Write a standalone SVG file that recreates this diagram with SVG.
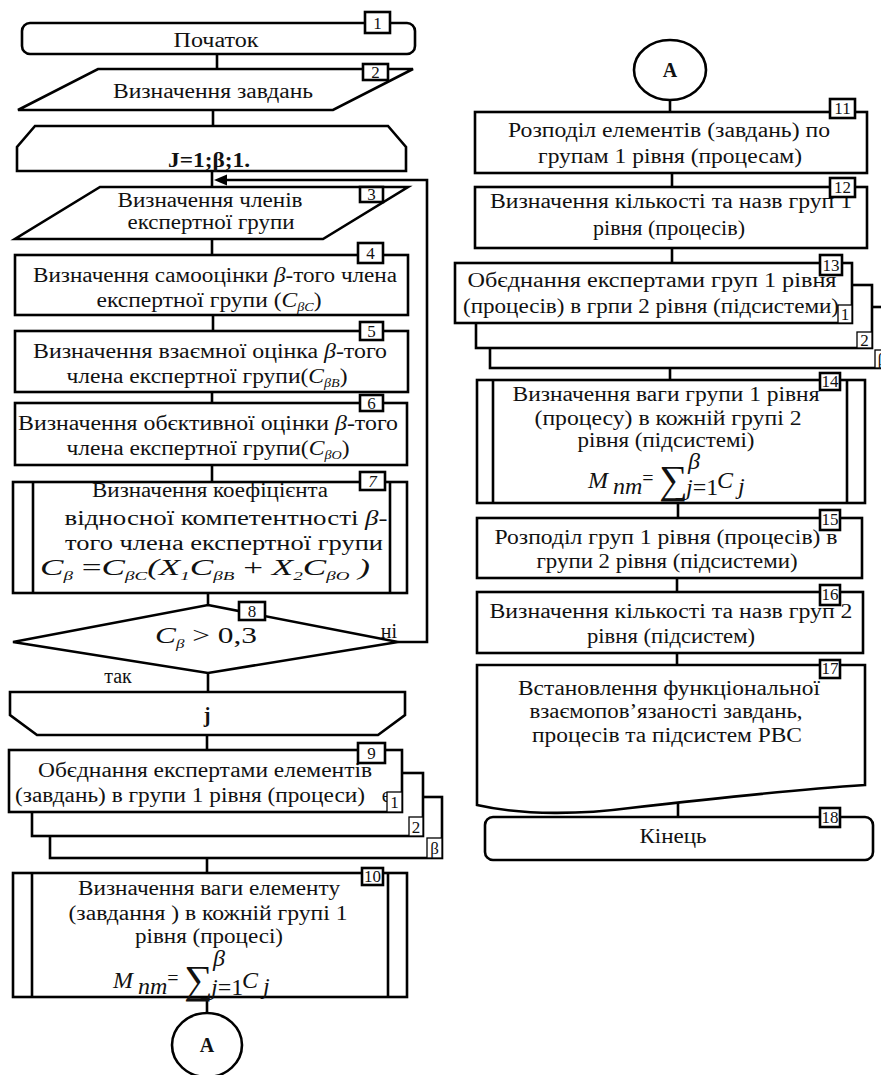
<svg xmlns="http://www.w3.org/2000/svg" width="881" height="1075" viewBox="0 0 881 1075" font-family="Liberation Serif, DejaVu Serif, serif">
<style>
.b{fill:#fff;stroke:#000;stroke-width:2.6}
.bd{fill:#fff;stroke:#000;stroke-width:2.6}
.bt{fill:#fff;stroke:#000;stroke-width:1.3}
.c{fill:none;stroke:#000;stroke-width:2.6}
.t{font-size:20px;fill:#111;text-anchor:middle}
.n{font-size:17px;fill:#111;text-anchor:middle}
.fm{font-size:24px;font-style:italic;fill:#111}
.s{font-size:13px}
.sg{font-size:40px;fill:#111}
</style>

<g id="connectors">
<line class="c" x1="217" y1="54" x2="217" y2="69"/>
<line class="c" x1="213" y1="110" x2="213" y2="126"/>
<line class="c" x1="212" y1="171" x2="212" y2="187"/>
<line class="c" x1="212" y1="239" x2="212" y2="255"/>
<line class="c" x1="213" y1="315" x2="213" y2="331"/>
<line class="c" x1="212" y1="392" x2="212" y2="403"/>
<line class="c" x1="212" y1="465" x2="212" y2="482"/>
<line class="c" x1="208" y1="593" x2="208" y2="605"/>
<line class="c" x1="208" y1="673" x2="208" y2="692"/>
<line class="c" x1="207" y1="735" x2="207" y2="750"/>
<line class="c" x1="207" y1="858" x2="207" y2="873"/>
<line class="c" x1="207" y1="997" x2="207" y2="1013"/>
<polyline class="c" points="398,642 427,642 427,180 224,180"/>
<polygon points="214,180 227,174.5 227,185.5" fill="#000"/>
<line class="c" x1="670" y1="100" x2="670" y2="112"/>
<line class="c" x1="672" y1="173" x2="672" y2="187"/>
<line class="c" x1="672" y1="248" x2="672" y2="263"/>
<line class="c" x1="670" y1="368" x2="670" y2="380"/>
<line class="c" x1="678" y1="503" x2="678" y2="518"/>
<line class="c" x1="677" y1="578" x2="677" y2="592"/>
<line class="c" x1="677" y1="653" x2="677" y2="665"/>
<line class="c" x1="678" y1="800" x2="678" y2="817"/>
</g>

<g id="n1">
<rect class="b" x="22" y="23" width="393" height="31" rx="8"/>
<text class="t" x="216" y="47" textLength="85" lengthAdjust="spacingAndGlyphs">Початок</text>
<rect class="bd" x="365" y="12" width="25" height="21"/><text class="n" x="377.5" y="29">1</text>
</g>

<g id="n2">
<polygon class="b" points="98,69 413,69 333,110 18,110"/>
<text class="t" x="213" y="98" textLength="200" lengthAdjust="spacingAndGlyphs">Визначення завдань</text>
<rect class="bd" x="363" y="64" width="25" height="16"/><text class="n" x="375.5" y="78">2</text>
</g>

<g id="loopstart">
<polygon class="b" points="35,126 388,126 406,147 406,171 17,171 17,147"/>
<text class="t" x="209" y="167" font-weight="bold" textLength="82" lengthAdjust="spacingAndGlyphs">J=1;β;1.</text>
</g>

<g id="n3">
<polygon class="b" points="100,187 408,187 323,239 15,239"/>
<text class="t" x="210" y="207" textLength="185" lengthAdjust="spacingAndGlyphs">Визначення членів</text>
<text class="t" x="211" y="229" textLength="167" lengthAdjust="spacingAndGlyphs">експертної групи</text>
<rect class="bd" x="360" y="187" width="23" height="15"/><text class="n" x="371.5" y="200">3</text>
</g>

<g id="n4">
<rect class="b" x="15" y="255" width="393" height="60"/>
<text class="t" x="215" y="282" textLength="364" lengthAdjust="spacingAndGlyphs">Визначення  самооцінки <tspan font-style="italic">β</tspan>-того члена</text>
<text class="t" x="209" y="307" textLength="225" lengthAdjust="spacingAndGlyphs">експертної групи (<tspan font-style="italic">C</tspan><tspan font-style="italic" font-size="12" dy="4">βC</tspan><tspan dy="-4">)</tspan></text>
<rect class="bd" x="358" y="243" width="25" height="20"/><text class="n" x="370.5" y="259">4</text>
</g>

<g id="n5">
<rect class="b" x="15" y="331" width="393" height="61"/>
<text class="t" x="210" y="358" textLength="354" lengthAdjust="spacingAndGlyphs">Визначення  взаємної оцінка <tspan font-style="italic">β</tspan>-того</text>
<text class="t" x="207" y="383" textLength="281" lengthAdjust="spacingAndGlyphs">члена експертної  групи(<tspan font-style="italic">C</tspan><tspan font-style="italic" font-size="12" dy="4">βB</tspan><tspan dy="-4">)</tspan></text>
<rect class="bd" x="360" y="322" width="23" height="18"/><text class="n" x="371.5" y="337">5</text>
</g>

<g id="n6">
<rect class="b" x="15" y="403" width="392" height="62"/>
<text class="t" x="208" y="430" textLength="380" lengthAdjust="spacingAndGlyphs">Визначення  обєктивної оцінки <tspan font-style="italic">β</tspan>-того</text>
<text class="t" x="208" y="455" textLength="283" lengthAdjust="spacingAndGlyphs">члена експертної  групи(<tspan font-style="italic">C</tspan><tspan font-style="italic" font-size="12" dy="4">βO</tspan><tspan dy="-4">)</tspan></text>
<rect class="bd" x="360" y="395" width="23" height="16"/><text class="n" x="371.5" y="409" font-size="15">6</text>
</g>

<g id="n7">
<rect class="b" x="13" y="482" width="394" height="111"/>
<line class="c" x1="33" y1="482" x2="33" y2="593"/>
<line class="c" x1="390" y1="482" x2="390" y2="593"/>
<text class="t" x="210" y="497" textLength="236" lengthAdjust="spacingAndGlyphs">Визначення  коефіцієнта</text>
<text class="t" x="226" y="525" textLength="323" lengthAdjust="spacingAndGlyphs">відносної компетентності  <tspan font-style="italic">β</tspan>-</text>
<text class="t" x="224" y="550" textLength="318" lengthAdjust="spacingAndGlyphs">того члена  експертної  групи</text>
<text class="fm" x="40" y="575" textLength="330" lengthAdjust="spacingAndGlyphs">C<tspan class="s" dy="5">β</tspan><tspan dy="-5" font-style="normal"> =</tspan><tspan>C</tspan><tspan class="s" dy="5">βC</tspan><tspan dy="-5">(X</tspan><tspan class="s" dy="5">1</tspan><tspan dy="-5">C</tspan><tspan class="s" dy="5">βB</tspan><tspan dy="-5" font-style="normal"> + </tspan><tspan>X</tspan><tspan class="s" dy="5">2</tspan><tspan dy="-5">C</tspan><tspan class="s" dy="5">βO</tspan><tspan dy="-5"> )</tspan></text>
<rect class="bd" x="360" y="472" width="25" height="18"/><text class="n" x="372.5" y="487" font-style="italic">7</text>
</g>

<g id="n8">
<polygon class="b" points="208,605 398,642 208,673 13,642"/>
<text class="fm" x="155" y="643" textLength="102" lengthAdjust="spacingAndGlyphs">C<tspan class="s" dy="5">β</tspan><tspan dy="-5" font-style="normal"> &gt; 0,3</tspan></text>
<rect class="bd" x="239" y="602" width="26" height="18"/><text class="n" x="252" y="617">8</text>
<text class="t" x="389" y="638">ні</text>
<text class="t" x="118" y="683">так</text>
</g>

<g id="loopend">
<polygon class="b" points="10,692 405,692 405,715 378,735 37,735 10,715"/>
<text class="t" x="207" y="722" font-weight="bold">j</text>
</g>

<g id="n9">
<rect class="b" x="50" y="797" width="392" height="61"/>
<rect class="bt" x="427" y="838" width="15" height="20"/><text class="n" x="434.5" y="854" font-size="15">β</text>
<rect class="b" x="32" y="773" width="391" height="63"/>
<rect class="bt" x="409" y="817" width="14" height="19"/><text class="n" x="416" y="833" font-size="15">2</text>
<rect class="b" x="9" y="750" width="393" height="62"/>
<text class="t" x="205" y="777" textLength="334" lengthAdjust="spacingAndGlyphs">Обєднання експертами  елементів</text>
<text class="t" x="190" y="802" textLength="350" lengthAdjust="spacingAndGlyphs">(завдань) в групи 1 рівня (процеси)</text>
<text class="t" x="386" y="802">є</text>
<rect class="bt" x="387" y="792" width="15" height="20"/><text class="n" x="394.5" y="808" font-size="15">1</text>
<rect class="bd" x="358" y="743" width="27" height="20"/><text class="n" x="371.5" y="759">9</text>
</g>

<g id="n10">
<rect class="b" x="13" y="873" width="394" height="124"/>
<line class="c" x1="32" y1="873" x2="32" y2="997"/>
<line class="c" x1="388" y1="873" x2="388" y2="997"/>
<text class="t" x="209" y="895" textLength="262" lengthAdjust="spacingAndGlyphs">Визначення  ваги елементу</text>
<text class="t" x="208" y="920" textLength="279" lengthAdjust="spacingAndGlyphs">(завдання ) в кожній  групі 1</text>
<text class="t" x="209" y="943" textLength="148" lengthAdjust="spacingAndGlyphs">рівня (процесі)</text>
<text class="fm" x="113" y="988" font-size="26">M</text>
<text class="fm" x="138" y="994" font-size="9">nm</text>
<text class="t" x="173" y="985" font-size="22">=</text>
<text class="sg" x="184" y="993">∑</text>
<text class="fm" x="213" y="966" font-size="12">β</text>
<text class="fm" x="211" y="995" font-size="13">j<tspan font-style="normal">=1</tspan></text>
<text class="fm" x="242" y="988" font-size="26">C</text>
<text class="fm" x="263" y="994" font-size="14">j</text>
<rect class="bd" x="362" y="868" width="21" height="17"/><text class="n" x="372.5" y="882" font-size="15">10</text>
</g>

<g id="connA1">
<ellipse class="b" cx="207" cy="1045" rx="35" ry="32"/>
<text class="t" x="207" y="1052" font-weight="bold">A</text>
</g>

<g id="connA2">
<ellipse class="b" cx="670" cy="70" rx="36" ry="30"/>
<text class="t" x="670" y="77" font-weight="bold">A</text>
</g>

<g id="n11">
<rect class="b" x="475" y="112" width="392" height="61"/>
<text class="t" x="669" y="137" textLength="322" lengthAdjust="spacingAndGlyphs">Розподіл елементів  (завдань) по</text>
<text class="t" x="670" y="163" textLength="264" lengthAdjust="spacingAndGlyphs">групам 1 рівня  (процесам)</text>
<rect class="bd" x="830" y="99" width="25" height="19"/><text class="n" x="842.5" y="114" font-size="15">11</text>
</g>

<g id="n12">
<rect class="b" x="475" y="187" width="392" height="61"/>
<text class="t" x="671" y="208" textLength="362" lengthAdjust="spacingAndGlyphs">Визначення  кількості та назв груп 1</text>
<text class="t" x="669" y="235" textLength="152" lengthAdjust="spacingAndGlyphs">рівня (процесів)</text>
<rect class="bd" x="830" y="178" width="25" height="19"/><text class="n" x="842.5" y="193" font-size="15">12</text>
</g>

<g id="n13">
<rect class="b" x="490" y="307" width="400" height="61"/>
<rect class="bt" x="875" y="350" width="15" height="18"/><text class="n" x="882" y="365" font-size="15">β</text>
<rect class="b" x="476" y="285" width="396" height="63"/>
<rect class="bt" x="857" y="332" width="15" height="16"/><text class="n" x="864.5" y="346" font-size="15">2</text>
<rect class="b" x="455" y="263" width="397" height="60"/>
<text class="t" x="652" y="287" textLength="369" lengthAdjust="spacingAndGlyphs">Обєднання  експертами  груп 1 рівня</text>
<text class="t" x="651" y="313" textLength="376" lengthAdjust="spacingAndGlyphs">(процесів) в грпи 2 рівня (підсистеми)</text>
<rect class="bt" x="838" y="305" width="14" height="18"/><text class="n" x="845" y="320" font-size="15">1</text>
<rect class="bd" x="820" y="255" width="22" height="20"/><text class="n" x="831" y="271" font-size="15">13</text>
</g>

<g id="n14">
<rect class="b" x="477" y="380" width="388" height="123"/>
<line class="c" x1="493" y1="380" x2="493" y2="503"/>
<line class="c" x1="847" y1="380" x2="847" y2="503"/>
<text class="t" x="666" y="401" textLength="307" lengthAdjust="spacingAndGlyphs">Визначення  ваги групи 1 рівня</text>
<text class="t" x="668" y="425" textLength="267" lengthAdjust="spacingAndGlyphs">(процесу) в кожній  групі 2</text>
<text class="t" x="666" y="447" textLength="177" lengthAdjust="spacingAndGlyphs">рівня (підсистемі)</text>
<text class="fm" x="588" y="488" font-size="26">M</text>
<text class="fm" x="613" y="494" font-size="9">nm</text>
<text class="t" x="648" y="485" font-size="22">=</text>
<text class="sg" x="659" y="493">∑</text>
<text class="fm" x="688" y="469" font-size="11">β</text>
<text class="fm" x="686" y="495" font-size="13">j<tspan font-style="normal">=1</tspan></text>
<text class="fm" x="717" y="488" font-size="26">C</text>
<text class="fm" x="738" y="494" font-size="14">j</text>
<rect class="bd" x="820" y="373" width="20" height="17"/><text class="n" x="830" y="387" font-size="14">14</text>
</g>

<g id="n15">
<rect class="b" x="477" y="518" width="385" height="60"/>
<text class="t" x="666" y="544" textLength="343" lengthAdjust="spacingAndGlyphs">Розподіл груп 1 рівня (процесів)  в</text>
<text class="t" x="667" y="568" textLength="261" lengthAdjust="spacingAndGlyphs">групи 2 рівня (підсистеми)</text>
<rect class="bd" x="820" y="510" width="20" height="20"/><text class="n" x="830" y="525" font-size="14">15</text>
</g>

<g id="n16">
<rect class="b" x="477" y="592" width="386" height="61"/>
<text class="t" x="671" y="618" textLength="363" lengthAdjust="spacingAndGlyphs">Визначення  кількості та назв груп 2</text>
<text class="t" x="671" y="643" textLength="168" lengthAdjust="spacingAndGlyphs">рівня (підсистем)</text>
<rect class="bd" x="820" y="585" width="20" height="20"/><text class="n" x="830" y="600" font-size="14">16</text>
</g>

<g id="n17">
<path class="b" d="M477,665 H865 V785 C790,790 700,800 630,808 C585,814 525,816 477,805 Z"/>
<text class="t" x="669" y="695" textLength="302" lengthAdjust="spacingAndGlyphs">Встановлення  функціональної</text>
<text class="t" x="666" y="718" textLength="273" lengthAdjust="spacingAndGlyphs">взаємопов’язаності завдань,</text>
<text class="t" x="667" y="742" textLength="270" lengthAdjust="spacingAndGlyphs">процесів  та підсистем  РВС</text>
<rect class="bd" x="820" y="660" width="20" height="18"/><text class="n" x="830" y="674" font-size="14">17</text>
</g>

<g id="n18">
<rect class="b" x="485" y="817" width="388" height="43" rx="8"/>
<text class="t" x="673" y="843" textLength="67" lengthAdjust="spacingAndGlyphs">Кінець</text>
<rect class="bd" x="820" y="808" width="20" height="19"/><text class="n" x="830" y="823" font-size="14">18</text>
</g>
</svg>
